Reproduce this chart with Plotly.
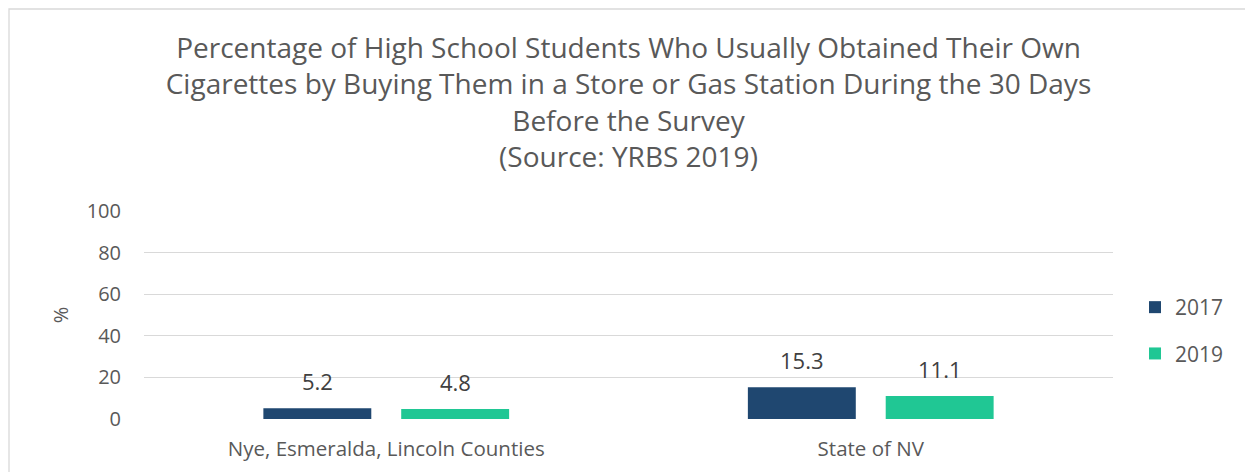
import plotly.graph_objects as go

categories = ["Nye, Esmeralda, Lincoln Counties", "State of NV"]
values_2017 = [5.2, 15.3]
values_2019 = [4.8, 11.1]
series_names = ["2017", "2019"]
y_ticks = [0, 20, 40, 60, 80, 100]

title_text = ("Percentage of High School Students Who Usually Obtained Their Own<br>"
              "Cigarettes by Buying Them in a Store or Gas Station During the 30 Days<br>"
              "Before the Survey<br>(Source: YRBS 2019)")

FONT = "Open Sans"
GREY = "#595959"
colors = ["#1F4770", "#20C794"]

W, H = 1245, 472
L, R, T, B = 144, 132, 211, 53
pw, ph = W - L - R, H - T - B

fig = go.Figure()
for name, vals, col in zip(series_names, [values_2017, values_2019], colors):
    fig.add_trace(go.Bar(
        x=categories, y=vals, name=name, marker=dict(color=col, line=dict(width=0)),
        legendgroup=name,
    ))

# data labels
offset = 69
for vals, sh in [(values_2017, -offset), (values_2019, offset)]:
    for c, v in zip(categories, vals):
        fig.add_annotation(x=c, y=v, text=f"{v}", showarrow=False, xshift=sh,
                           yanchor="bottom", yshift=10,
                           font=dict(family=FONT, size=22, color="#404040"))

# outer border
def px2x(p):
    return (p - L) / pw

def py2y(p):
    return (H - B - p) / ph

fig.add_shape(type="rect", xref="paper", yref="paper",
              x0=px2x(9), x1=px2x(1260), y0=py2y(490), y1=py2y(9),
              line=dict(color="#D9D9D9", width=1.3), fillcolor="rgba(0,0,0,0)", layer="below")

fig.update_layout(
    width=W, height=H,
    margin=dict(l=L, r=R, t=T, b=B, autoexpand=False),
    paper_bgcolor="white", plot_bgcolor="white",
    barmode="group", bargap=0.431, bargroupgap=0.217,
    font=dict(family=FONT, color=GREY),
    title=dict(text=title_text, x=0.5, xref="paper", xanchor="center",
               y=1 - 58 / H, yref="container", yanchor="top",
               font=dict(family=FONT, size=28, color=GREY)),
    yaxis=dict(range=[0, 100], tickvals=y_ticks, showgrid=True, gridcolor="#D9D9D9",
               gridwidth=1.3, zeroline=False, showline=False,
               tickfont=dict(family=FONT, size=20, color=GREY), ticklabelstandoff=22,
               title=dict(text="%", font=dict(family=FONT, size=20, color=GREY), standoff=12)),
    xaxis=dict(showline=False, showgrid=False, tickfont=dict(family=FONT, size=20.5, color=GREY),
               ticklabelstandoff=15),
    legend=dict(x=1135 / W, xref="container", xanchor="left",
                y=1 - 287 / H, yref="container", yanchor="top",
                font=dict(family=FONT, size=21, color=GREY),
                tracegroupgap=16, traceorder="grouped", bgcolor="rgba(0,0,0,0)"),
    showlegend=True,
)

fig.write_html("out.html", post_script="document.body.style.margin='0';",
               config={"displayModeBar": False})
